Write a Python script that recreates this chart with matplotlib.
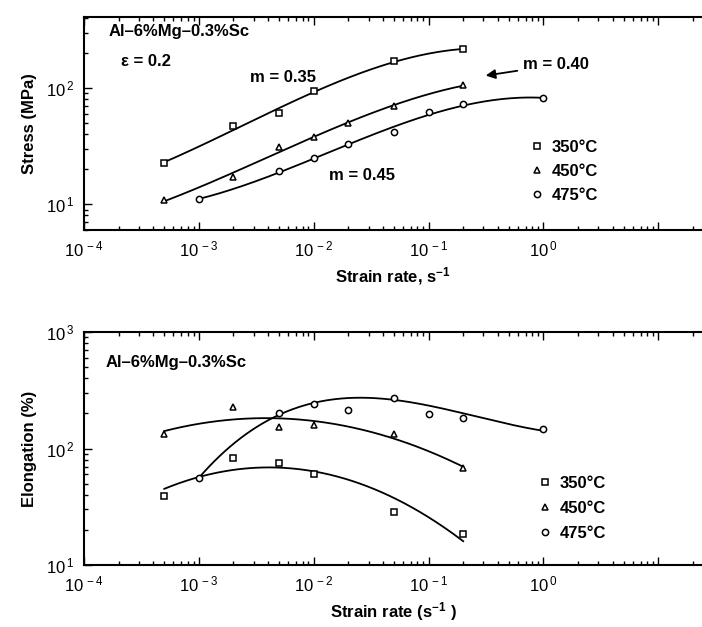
import numpy as np
import matplotlib
matplotlib.use("Agg")
import matplotlib.pyplot as plt
from matplotlib.ticker import LogLocator, FuncFormatter, NullFormatter

plt.rcParams['font.family'] = ['Liberation Sans', 'DejaVu Sans']
plt.rcParams['mathtext.default'] = 'regular'

# stress vs strain rate (top panel)
rate_350 = [5e-4, 2e-3, 5e-3, 1e-2, 5e-2, 2e-1]
stress_350 = [22.7, 47, 61, 95, 171, 216]
rate_450 = [5e-4, 2e-3, 5e-3, 1e-2, 2e-2, 5e-2, 2e-1]
stress_450 = [10.8, 17.2, 31, 38, 50, 70, 106]
rate_475 = [1e-3, 5e-3, 1e-2, 2e-2, 5e-2, 1e-1, 2e-1, 1.0]
stress_475 = [11, 19.4, 24.8, 33, 42, 62, 73, 81.5]

# elongation vs strain rate (bottom panel)
erate_350 = [5e-4, 2e-3, 5e-3, 1e-2, 5e-2, 2e-1]
elong_350 = [39, 83, 75, 60, 28.6, 18.6]
erate_450 = [5e-4, 2e-3, 5e-3, 1e-2, 5e-2, 2e-1]
elong_450 = [132, 228, 153, 158, 134, 68]
erate_475 = [1e-3, 5e-3, 1e-2, 2e-2, 5e-2, 1e-1, 2e-1, 1.0]
elong_475 = [56, 200, 240, 216, 269, 196, 183, 146]
# weights for the trend of the 475°C elongation curve
w_475 = [6, 1, 1, 1, 4, 1, 1, 1]

labels = ['350°C', '450°C', '475°C']


def fit_curve(ax, x, y, deg, w=None):
    lx, ly = np.log10(x), np.log10(y)
    c = np.polyfit(lx, ly, deg, w=w)
    xs = np.linspace(lx.min(), lx.max(), 200)
    ax.plot(10 ** xs, 10 ** np.polyval(c, xs), color='black', lw=1.3, zorder=2)


def y_fmt(v, pos):
    return r'10$^{\,%d}$' % int(round(np.log10(v)))


def x_fmt(v, pos):
    e = int(round(np.log10(v)))
    return '' if e > 0 else r'10$^{\,%d}$' % e


def style_axis(ax, ylo, yhi):
    ax.set_xscale('log')
    ax.set_yscale('log')
    ax.set_xlim(1e-4, 10 ** 1.38)
    ax.set_ylim(ylo, yhi)
    ax.xaxis.set_major_locator(LogLocator(base=10, numticks=10))
    ax.xaxis.set_minor_locator(LogLocator(base=10, subs=np.arange(2, 10), numticks=20))
    ax.yaxis.set_major_locator(LogLocator(base=10, numticks=10))
    ax.yaxis.set_minor_locator(LogLocator(base=10, subs=np.arange(2, 10), numticks=20))
    ax.xaxis.set_major_formatter(FuncFormatter(x_fmt))
    ax.yaxis.set_major_formatter(FuncFormatter(y_fmt))
    ax.xaxis.set_minor_formatter(NullFormatter())
    ax.yaxis.set_minor_formatter(NullFormatter())
    ax.tick_params(which='both', direction='in', top=True, right=False, labelsize=12, width=1)
    ax.tick_params(which='major', length=6, pad=7)
    ax.tick_params(which='minor', length=3)
    ax.spines['right'].set_visible(False)
    for s in ['left', 'bottom', 'top']:
        ax.spines[s].set_linewidth(1.5)


def mark(ax, x, y, m, lab):
    ax.plot(x, y, ls='none', marker=m, ms=4.5, mfc='white', mec='black', mew=1.1,
            label=lab, zorder=3)


fig = plt.figure(figsize=(7.02, 6.27), dpi=100)
ax1 = fig.add_axes([84 / 702, 1 - 230 / 627, 1 - 84 / 702, 213 / 627])
ax2 = fig.add_axes([84 / 702, 1 - 565 / 627, 1 - 84 / 702, 233 / 627])

# top panel
style_axis(ax1, 6, 410)
for x, y, m, lab in [(rate_350, stress_350, 's', labels[0]),
                     (rate_450, stress_450, '^', labels[1]),
                     (rate_475, stress_475, 'o', labels[2])]:
    fit_curve(ax1, x, y, 3)
    mark(ax1, x, y, m, lab)
ax1.legend(loc='upper left', bbox_to_anchor=(0.706, 0.455), frameon=False,
           prop={'weight': 'bold', 'size': 12}, handletextpad=0.3,
           labelspacing=0.55, handlelength=1.2, borderaxespad=0)
ax1.set_ylabel('Stress (MPa)', fontsize=12, fontweight='bold', labelpad=6)
ax1.set_xlabel('Strain rate, s$^{-1}$', fontsize=12, fontweight='bold', labelpad=4)
ax1.text(0.04, 0.93, 'Al–6%Mg–0.3%Sc', transform=ax1.transAxes, fontsize=12,
         fontweight='bold', va='center')
ax1.text(0.06, 0.79, 'ε = 0.2', transform=ax1.transAxes, fontsize=12,
         fontweight='bold', va='center')
ax1.text(0.268, 0.715, 'm = 0.35', transform=ax1.transAxes, fontsize=12,
         fontweight='bold', va='center')
ax1.text(0.397, 0.255, 'm = 0.45', transform=ax1.transAxes, fontsize=12,
         fontweight='bold', va='center')
ax1.annotate('m = 0.40', xy=(0.65, 0.725), xytext=(0.71, 0.775),
             textcoords='axes fraction', xycoords='axes fraction',
             fontsize=12, fontweight='bold', va='center',
             arrowprops=dict(arrowstyle='-|>', color='black', lw=1.3,
                             shrinkA=2, shrinkB=0, mutation_scale=14))

# bottom panel
style_axis(ax2, 10, 1000)
fit_curve(ax2, erate_350, elong_350, 2)
fit_curve(ax2, erate_450, elong_450, 2)
fit_curve(ax2, erate_475, elong_475, 3, w=w_475)
mark(ax2, erate_350, elong_350, 's', labels[0])
mark(ax2, erate_450, elong_450, '^', labels[1])
mark(ax2, erate_475, elong_475, 'o', labels[2])
ax2.legend(loc='upper left', bbox_to_anchor=(0.719, 0.41), frameon=False,
           prop={'weight': 'bold', 'size': 12}, handletextpad=0.3,
           labelspacing=0.6, handlelength=1.2, borderaxespad=0)
ax2.set_ylabel('Elongation (%)', fontsize=12, fontweight='bold', labelpad=6)
ax2.set_xlabel('Strain rate (s$^{-1}$ )', fontsize=12, fontweight='bold', labelpad=4)
ax2.text(0.035, 0.87, 'Al–6%Mg–0.3%Sc', transform=ax2.transAxes, fontsize=12,
         fontweight='bold', va='center')

fig.savefig('out.png', dpi=100)
